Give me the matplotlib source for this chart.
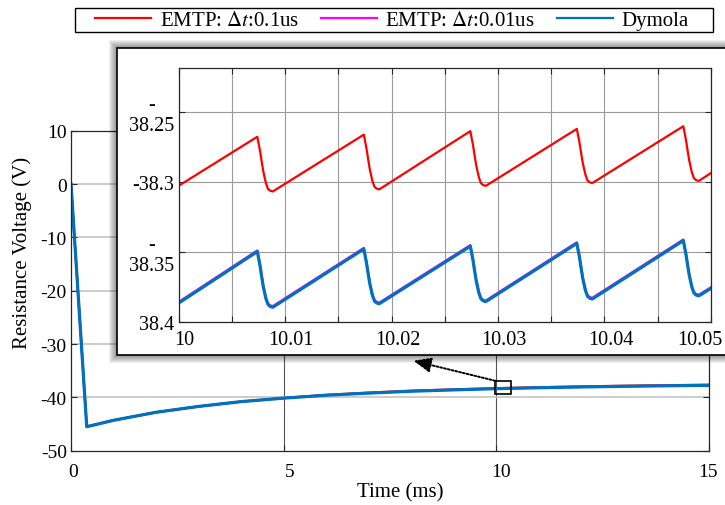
import matplotlib
matplotlib.use('Agg')
import matplotlib.pyplot as plt
from matplotlib.patches import Rectangle
from matplotlib.lines import Line2D
from matplotlib.transforms import ScaledTranslation

plt.rcParams['font.family'] = ['Liberation Serif', 'DejaVu Serif']
plt.rcParams['mathtext.fontset'] = 'stix'
plt.rcParams['axes.unicode_minus'] = False
plt.rcParams['font.size'] = 14

# ---- data (time in ms, voltage in V) ----
t_main = [0, 0.37, 1, 2, 3, 4, 5, 6, 7, 8, 9, 10, 11, 12, 13, 14, 15]
v_emtp1_main = [0, -45.5, -44.3, -42.8, -41.7, -40.8, -40.12, -39.55, -39.12,
                -38.76, -38.5, -38.29, -38.1, -37.95, -37.82, -37.72, -37.63]
v_emtp01_main = [0, -45.5, -44.3, -42.8, -41.7, -40.8, -40.14, -39.59, -39.19,
                 -38.84, -38.59, -38.36, -38.19, -38.04, -37.92, -37.82, -37.74]
v_dym_main = [0, -45.5, -44.3, -42.8, -41.7, -40.8, -40.15, -39.6, -39.2,
              -38.85, -38.6, -38.37, -38.2, -38.05, -37.93, -37.83, -37.75]

t_zoom = [10.0,
          10.0074, 10.00765, 10.0078, 10.00796, 10.0082, 10.0084, 10.0086, 10.00885,
          10.0174, 10.01765, 10.0178, 10.01796, 10.0182, 10.0184, 10.0186, 10.01885,
          10.0274, 10.02765, 10.0278, 10.02796, 10.0282, 10.0284, 10.0286, 10.02885,
          10.0374, 10.03765, 10.0378, 10.03796, 10.0382, 10.0384, 10.0386, 10.03885,
          10.0474, 10.04765, 10.0478, 10.04796, 10.0482, 10.0484, 10.0486, 10.04885,
          10.05]
v_emtp1_zoom = [-38.303,
                -38.268, -38.2778, -38.2852, -38.2926, -38.3008, -38.3051, -38.3064, -38.307,
                -38.2665, -38.2763, -38.2837, -38.2911, -38.2993, -38.3036, -38.3049, -38.3055,
                -38.264, -38.2738, -38.2812, -38.2886, -38.2968, -38.3011, -38.3024, -38.303,
                -38.2624, -38.2721, -38.2794, -38.2867, -38.2948, -38.2991, -38.3004, -38.301,
                -38.2605, -38.2703, -38.2777, -38.2851, -38.2933, -38.2976, -38.2989, -38.2995,
                -38.2938]
v_emtp01_zoom = [-38.3858,
                 -38.349, -38.3589, -38.3665, -38.374, -38.3824, -38.3867, -38.3881, -38.3887,
                 -38.3472, -38.357, -38.3644, -38.3718, -38.38, -38.3843, -38.3856, -38.3862,
                 -38.3452, -38.3551, -38.3626, -38.3701, -38.3784, -38.3827, -38.3841, -38.3847,
                 -38.3432, -38.3531, -38.3606, -38.3682, -38.3765, -38.3808, -38.3822, -38.3828,
                 -38.3412, -38.3511, -38.3585, -38.366, -38.3743, -38.3786, -38.38, -38.3806,
                 -38.3752]
v_dym_zoom = [-38.3866,
              -38.3498, -38.3597, -38.3673, -38.3748, -38.3832, -38.3875, -38.3889, -38.3895,
              -38.348, -38.3578, -38.3652, -38.3726, -38.3808, -38.3851, -38.3864, -38.387,
              -38.346, -38.3559, -38.3634, -38.3709, -38.3792, -38.3835, -38.3849, -38.3855,
              -38.344, -38.3539, -38.3614, -38.369, -38.3773, -38.3816, -38.383, -38.3836,
              -38.342, -38.3519, -38.3593, -38.3668, -38.3751, -38.3794, -38.3808, -38.3814,
              -38.376]

labels = ['EMTP: $\\Delta t$:0.1us', 'EMTP: $\\Delta t$:0.01us', 'Dymola']
colors = ['#ff0000', '#ff00ff', '#0072bd']

main_xticks = [0, 5, 10, 15]
main_yticks = [-50, -40, -30, -20, -10, 0, 10]
zoom_xticks = [10.0, 10.005, 10.01, 10.015, 10.02, 10.025, 10.03, 10.035, 10.04, 10.045, 10.05]
zoom_xlabels = ['10', '', '10.01', '', '10.02', '', '10.03', '', '10.04', '', '10.05']
zoom_yticks = [-38.4, -38.35, -38.3, -38.25]
zoom_ylabels = ['38.4', '-\n38.35', '-38.3', '-\n38.25']

W, H = 725, 506


def fx(px):
    return px / W


def fy(py):
    return 1 - py / H


def shift(lab, dx):
    lab.set_transform(lab.get_transform() + ScaledTranslation(dx / 100, 0, fig.dpi_scale_trans))


fig = plt.figure(figsize=(W / 100, H / 100), dpi=100)

# main axes
ax = fig.add_axes([fx(71), fy(451.7), fx(708.5) - fx(71), fy(131.7) - fy(451.7)])
ax.plot(t_main, v_emtp1_main, color=colors[0], lw=1.6)
ax.plot(t_main, v_emtp01_main, color=colors[1], lw=1.6)
ax.plot(t_main, v_dym_main, color=colors[2], lw=2.3)
ax.set_xlim(0, 15)
ax.set_ylim(-50, 10)
ax.set_xticks(main_xticks)
ax.set_yticks(main_yticks)
for x in [5, 10]:
    ax.axvline(x, color='#555555', lw=0.8, zorder=0)
for y in main_yticks[1:-1]:
    ax.axhline(y, color='#c4c4c4', lw=1.2, zorder=0)
ax.tick_params(direction='in', length=4, width=0.8, top=True, right=True,
               labelsize=14, color='#262626')
ax.tick_params(axis='x', pad=9)
ax.tick_params(axis='y', pad=3)
for sp in ax.spines.values():
    sp.set_color('#262626')
    sp.set_linewidth(0.9)
for lab, dx in zip(ax.get_xticklabels(), [2, 6, 5.5, -1]):
    shift(lab, dx)
ax.set_xlabel('Time (ms)', fontsize=15)
ax.xaxis.set_label_coords(0.516, -0.1, transform=ax.transAxes)
ax.xaxis.label.set_va('top')
ax.set_ylabel('Resistance Voltage (V)', fontsize=15)
ax.yaxis.set_label_coords(fx(22), 0.5, transform=fig.transFigure)
ax.yaxis.label.set_va('center')

# marker box and arrow
ax.add_patch(Rectangle((9.976, -39.38), 0.377, 2.5, fill=False, ec='k', lw=1.2, zorder=5))
ax.annotate('', xy=(8.054, -33.13), xytext=(9.976, -36.88),
            arrowprops=dict(arrowstyle='-|>,head_length=0.6,head_width=0.25',
                            color='k', lw=1.4, ls=(0, (1, 1)), mutation_scale=18,
                            shrinkA=0, shrinkB=0), zorder=5)

# inset panel with soft shadow
px0, py0, px1, py1 = 117, 49, 745, 356
for k in range(1, 9):
    fig.add_artist(Rectangle((fx(px0 - k), fy(py1 + k)), fx(px1 + k) - fx(px0 - k),
                             fy(py0 - k) - fy(py1 + k), transform=fig.transFigure,
                             fc='k', ec='none', alpha=0.06, zorder=2))
fig.add_artist(Rectangle((fx(px0), fy(py1)), fx(px1) - fx(px0), fy(py0) - fy(py1),
                         transform=fig.transFigure, fc='white', ec='k', lw=1.2, zorder=3))

axi = fig.add_axes([fx(178.5), fy(323), fx(711) - fx(178.5), fy(69) - fy(323)], zorder=4)
axi.plot(t_zoom, v_emtp1_zoom, color=colors[0], lw=1.6)
axi.plot(t_zoom, v_emtp01_zoom, color=colors[1], lw=1.6)
axi.plot(t_zoom, v_dym_zoom, color=colors[2], lw=2.3)
axi.set_xlim(10.0, 10.05)
axi.set_ylim(-38.4, -38.219)
axi.set_xticks(zoom_xticks, labels=zoom_xlabels)
axi.set_yticks(zoom_yticks, labels=zoom_ylabels)
axi.grid(True, color='#9a9a9a', lw=0.8)
axi.set_axisbelow(True)
axi.tick_params(direction='in', length=4, width=0.8, top=True, right=True,
                labelsize=14.5, color='#262626')
axi.tick_params(axis='x', pad=6)
axi.tick_params(axis='y', pad=3)
for sp in axi.spines.values():
    sp.set_color('#262626')
    sp.set_linewidth(0.9)
for lab in axi.get_yticklabels():
    lab.set_multialignment('center')
    lab.set_linespacing(1.15)
xl = axi.get_xticklabels()
for i, lab in enumerate(xl):
    shift(lab, -11 if i == len(xl) - 1 else 6)

# legend with a plain box on top
handles = [Line2D([], [], color=c, lw=1.6) for c in colors]
fig.legend(handles, labels, loc='center', bbox_to_anchor=(fx(392), fy(21)), ncol=3,
           frameon=False, fontsize=15, handlelength=2.7, handletextpad=0.4,
           columnspacing=1.05, borderpad=0, borderaxespad=0)
fig.add_artist(Rectangle((fx(75), fy(33)), fx(713) - fx(75), fy(9) - fy(33),
                         transform=fig.transFigure, fill=False, ec='k', lw=1.0, zorder=6))

fig.savefig('out.png', dpi=100)
